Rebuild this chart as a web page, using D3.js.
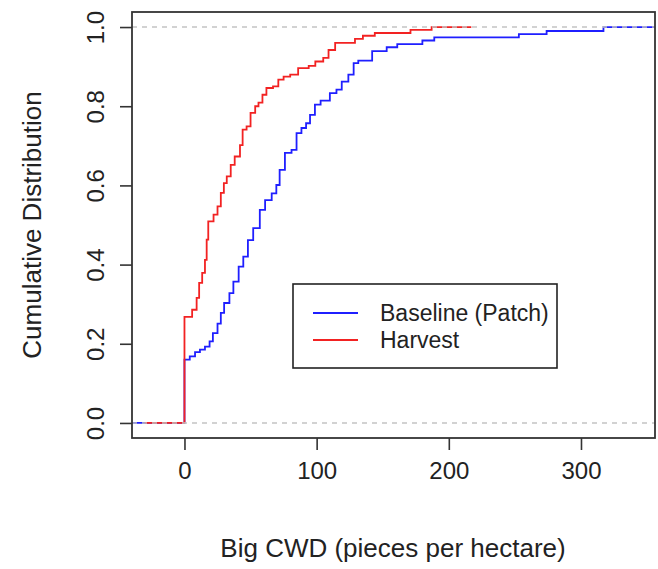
<!DOCTYPE html>
<html>
<head>
<meta charset="utf-8">
<script src="https://cdn.jsdelivr.net/npm/d3@7"></script>
<style>
  html, body { margin: 0; padding: 0; background: #fff; }
  svg { display: block; font-family: "Liberation Sans", Arial, Helvetica, sans-serif; }
</style>
</head>
<body>
<svg id="chart" width="658" height="569"></svg>
<script>
// Empirical CDF of big coarse woody debris (pieces per hectare)
// Knot positions and the cumulative level reached at each knot.
const baselineKnots = [0, 4, 8, 11.7, 15.5, 19, 21.5, 25, 27.5, 30, 34, 37, 41, 44.5, 48, 52, 57, 61, 66, 69.5,
  72, 76, 81, 84.8, 88.5, 92, 95, 98.7, 103, 110, 115, 119, 124, 128, 131.5, 142, 153, 161, 180, 189, 253, 274, 317];
const baselineLevels = [0.160, 0.168, 0.179, 0.185, 0.193, 0.206, 0.227, 0.251, 0.278, 0.303, 0.328, 0.357, 0.395,
  0.420, 0.462, 0.492, 0.538, 0.563, 0.580, 0.601, 0.639, 0.682, 0.690, 0.732, 0.745, 0.757, 0.778, 0.804, 0.814,
  0.833, 0.842, 0.862, 0.880, 0.909, 0.915, 0.939, 0.949, 0.957, 0.966, 0.974, 0.982, 0.990, 1.0];

const harvestKnots = [0, 5.8, 9.2, 11.1, 13.4, 15.5, 16.8, 18, 22, 25, 27.5, 29.8, 32, 35, 38, 42, 44, 47, 50, 53.5,
  56, 59, 62, 67, 71, 75, 80, 86, 94, 99, 105, 109, 114, 129, 135, 144, 171, 187];
const harvestLevels = [0.268, 0.286, 0.316, 0.354, 0.379, 0.412, 0.463, 0.509, 0.526, 0.547, 0.581, 0.606, 0.623,
  0.652, 0.673, 0.702, 0.741, 0.749, 0.783, 0.800, 0.809, 0.829, 0.846, 0.850, 0.867, 0.875, 0.880, 0.896, 0.902,
  0.913, 0.922, 0.942, 0.960, 0.970, 0.978, 0.985, 0.993, 1.0];

// Horizontal reach of each step function beyond its first and last knot
const baselineSpan = [-60, 380];
const harvestSpan = [-30, 217];

const seriesNames = ["Baseline (Patch)", "Harvest"];
const seriesColors = ["#1f1fff", "#f22222"];
const xTicks = [0, 100, 200, 300];
const yTicks = [0, 0.2, 0.4, 0.6, 0.8, 1.0];
const refLevels = [0, 1];

const svg = d3.select("#chart");
const plot = { left: 132, right: 655, top: 12, bottom: 438 };

const x = d3.scaleLinear().domain([-39.7, 356]).range([plot.left, plot.right]);
const y = d3.scaleLinear().domain([-0.038, 1.038]).range([plot.bottom, plot.top]);

svg.append("defs").append("clipPath").attr("id", "plotClip")
  .append("rect")
  .attr("x", plot.left).attr("y", plot.top)
  .attr("width", plot.right - plot.left).attr("height", plot.bottom - plot.top);

const g = svg.append("g").attr("clip-path", "url(#plotClip)");

function stepPoints(knots, levels, span) {
  const pts = [[span[0], 0]];
  knots.forEach((k, i) => pts.push([k, levels[i]]));
  pts.push([span[1], levels[levels.length - 1]]);
  return pts;
}

const line = d3.line()
  .x(d => x(d[0]))
  .y(d => y(d[1]))
  .curve(d3.curveStepAfter);

const series = [
  stepPoints(baselineKnots, baselineLevels, baselineSpan),
  stepPoints(harvestKnots, harvestLevels, harvestSpan)
];

g.selectAll("path.ecdf")
  .data(series)
  .join("path")
  .attr("class", "ecdf")
  .attr("d", line)
  .attr("fill", "none")
  .attr("stroke", (d, i) => seriesColors[i])
  .attr("stroke-width", 1.8)
  .attr("stroke-linejoin", "miter");

// Dashed grey reference lines at 0 and 1
g.selectAll("line.ref")
  .data(refLevels)
  .join("line")
  .attr("class", "ref")
  .attr("x1", plot.left).attr("x2", plot.right)
  .attr("y1", d => y(d)).attr("y2", d => y(d))
  .attr("stroke", "#c4c4c4")
  .attr("stroke-width", 1.6)
  .attr("stroke-dasharray", "5,5");

// Axes
const xAxis = d3.axisBottom(x).tickValues(xTicks).tickSize(12).tickPadding(12).tickFormat(d3.format("d"));
const gx = svg.append("g").attr("transform", `translate(0,${plot.bottom})`).call(xAxis);
gx.select(".domain").remove();
gx.selectAll(".tick line").attr("stroke", "#333").attr("stroke-width", 1.6);
gx.selectAll(".tick text").attr("font-size", 24).attr("fill", "#222");

const yAxis = d3.axisLeft(y).tickValues(yTicks).tickSize(12).tickFormat(d3.format(".1f"));
const gy = svg.append("g").attr("transform", `translate(${plot.left},0)`).call(yAxis);
gy.select(".domain").remove();
gy.selectAll(".tick line").attr("stroke", "#333").attr("stroke-width", 1.6);
gy.selectAll(".tick text")
  .attr("font-size", 24).attr("fill", "#222")
  .attr("x", null).attr("dy", null)
  .attr("text-anchor", "middle")
  .attr("dominant-baseline", "central")
  .attr("transform", "translate(-37,0) rotate(-90)");

// Plot frame
svg.append("rect")
  .attr("x", plot.left).attr("y", plot.top)
  .attr("width", plot.right - plot.left).attr("height", plot.bottom - plot.top)
  .attr("fill", "none").attr("stroke", "#333").attr("stroke-width", 1.8);

// Axis titles
svg.append("text")
  .attr("x", 393).attr("y", 557)
  .attr("text-anchor", "middle")
  .attr("font-size", 26).attr("fill", "#222")
  .text("Big CWD (pieces per hectare)");

svg.append("text")
  .attr("transform", `translate(32,225) rotate(-90)`)
  .attr("text-anchor", "middle")
  .attr("dominant-baseline", "central")
  .attr("font-size", 26).attr("fill", "#222")
  .text("Cumulative Distribution");

// Legend
const legend = svg.append("g").attr("transform", "translate(293,284)");
legend.append("rect")
  .attr("width", 264).attr("height", 84)
  .attr("fill", "#fff").attr("stroke", "#222").attr("stroke-width", 1.6);
const items = legend.selectAll("g.item")
  .data(seriesNames)
  .join("g")
  .attr("class", "item")
  .attr("transform", (d, i) => `translate(0,${29 + i * 27})`);
items.append("line")
  .attr("x1", 20).attr("x2", 65)
  .attr("stroke", (d, i) => seriesColors[i])
  .attr("stroke-width", 1.8);
items.append("text")
  .attr("x", 87)
  .attr("dominant-baseline", "central")
  .attr("font-size", 23).attr("fill", "#222")
  .text(d => d);
</script>
</body>
</html>
